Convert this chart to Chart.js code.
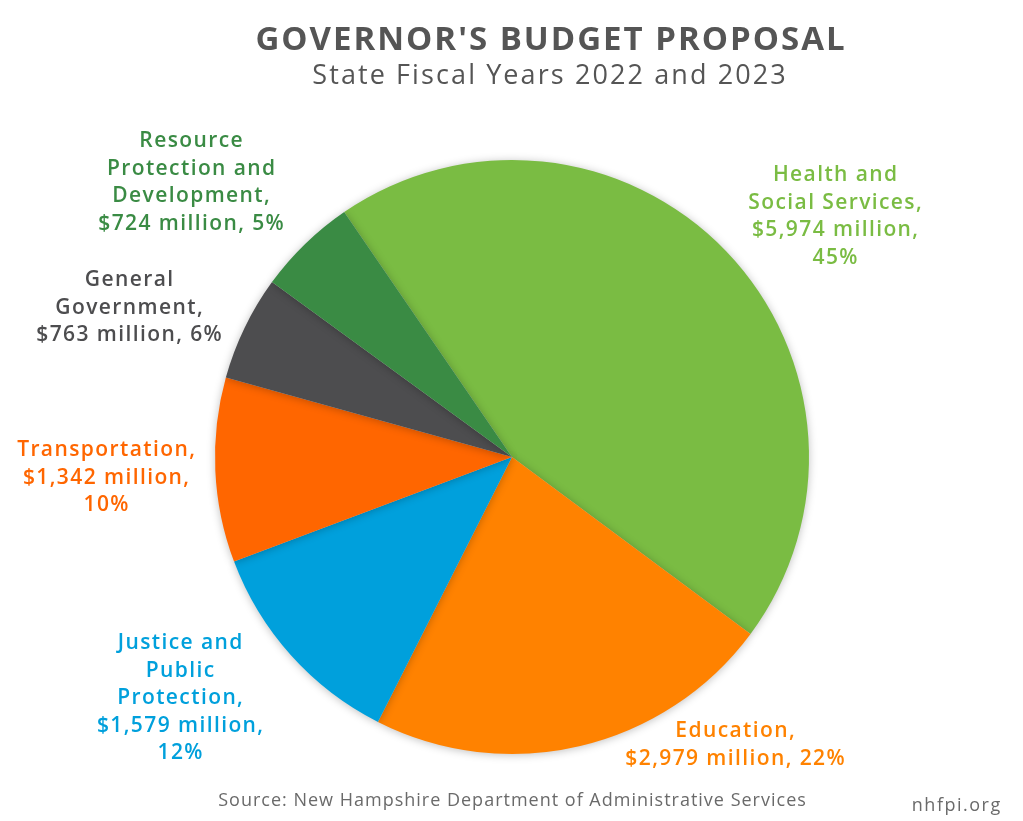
<!DOCTYPE html>
<html>
<head>
<meta charset="utf-8">
<script src="https://cdn.jsdelivr.net/npm/chart.js@4/dist/chart.umd.min.js"></script>
<style>
  html, body { margin: 0; padding: 0; background: #fff; }
  #wrap { width: 1023px; height: 821px; position: relative; }
</style>
</head>
<body>
<div id="wrap"><canvas id="chart"></canvas></div>
<script>
// budget areas, millions of dollars (clockwise from top-left)
const categories = [
  'Health and Social Services',
  'Education',
  'Justice and Public Protection',
  'Transportation',
  'General Government',
  'Resource Protection and Development'
];
const amounts = [5974, 2979, 1579, 1342, 763, 724];
const shares = ['45%', '22%', '12%', '10%', '6%', '5%'];
const sliceColors = ['#7ABC43', '#FF8200', '#00A0DC', '#FF6600', '#4D4D4F', '#3A8B44'];

// how each label is broken into lines
const labelLines = [
  ['Health and', 'Social Services,', '$5,974 million,', '45%'],
  ['Education,', '$2,979 million, 22%'],
  ['Justice and', 'Public', 'Protection,', '$1,579 million,', '12%'],
  ['Transportation,', '$1,342 million,', '10%'],
  ['General', 'Government,', '$763 million, 6%'],
  ['Resource', 'Protection and', 'Development,', '$724 million, 5%']
];
// label anchor (centre x, first baseline y)
const labelAnchors = [
  [835, 181], [735, 737], [180, 649], [106, 456], [129, 286], [191, 147]
];

const FONT = '"Open Sans", "Noto Sans", sans-serif';

const shadowPlugin = {
  id: 'pieShadow',
  beforeDatasetsDraw(chart) {
    const ctx = chart.ctx;
    ctx.save();
    ctx.shadowColor = 'rgba(0,0,0,0.25)';
    ctx.shadowBlur = 8;
    ctx.shadowOffsetX = 0;
    ctx.shadowOffsetY = 1;
  },
  afterDatasetsDraw(chart) {
    chart.ctx.restore();
  }
};

function spaced(ctx, text, x, y, gap) {
  ctx.letterSpacing = gap + 'px';
  ctx.fillText(text, x + gap / 2, y);
}

const textPlugin = {
  id: 'texts',
  afterDraw(chart) {
    const ctx = chart.ctx;
    ctx.save();
    ctx.textAlign = 'center';
    ctx.textBaseline = 'alphabetic';

    ctx.fillStyle = '#555555';
    ctx.font = '700 33px ' + FONT;
    spaced(ctx, "GOVERNOR'S BUDGET PROPOSAL", 550, 50, 2);
    ctx.font = '400 27px ' + FONT;
    spaced(ctx, 'State Fiscal Years 2022 and 2023', 549, 84, 2.1);

    ctx.font = '600 21px ' + FONT;
    labelLines.forEach((lines, i) => {
      ctx.fillStyle = sliceColors[i];
      const [x, y] = labelAnchors[i];
      lines.forEach((t, j) => spaced(ctx, t, x, y + j * 27.5, 1.4));
    });

    ctx.fillStyle = '#6a6a6a';
    ctx.font = '400 18px ' + FONT;
    spaced(ctx, 'Source: New Hampshire Department of Administrative Services', 512, 806, 1);
    spaced(ctx, 'nhfpi.org', 956, 811, 1.5);
    ctx.restore();
  }
};

new Chart(document.getElementById('chart'), {
  type: 'pie',
  data: {
    labels: categories,
    datasets: [{
      data: amounts,
      backgroundColor: sliceColors,
      borderWidth: 0
    }]
  },
  options: {
    responsive: true,
    maintainAspectRatio: false,
    animation: false,
    rotation: -34.4,
    layout: { padding: { left: 215, right: 214, top: 160, bottom: 67 } },
    plugins: {
      legend: { display: false },
      tooltip: { enabled: false }
    }
  },
  plugins: [shadowPlugin, textPlugin]
});
</script>
</body>
</html>
